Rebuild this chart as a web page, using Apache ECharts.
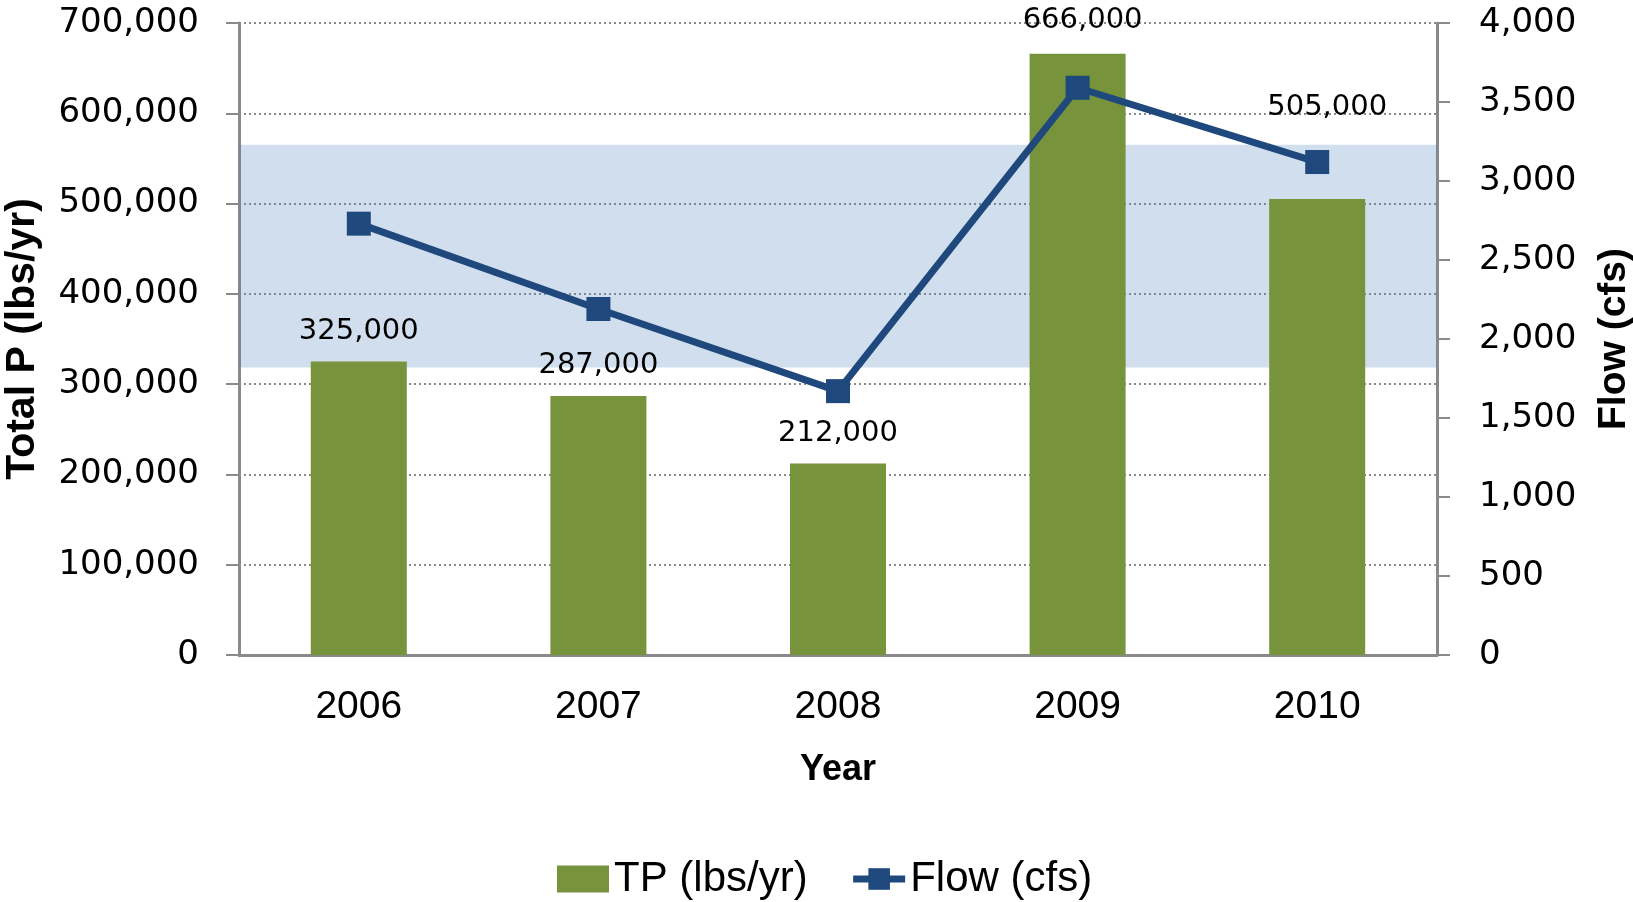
<!DOCTYPE html>
<html>
<head>
<meta charset="utf-8">
<script src="https://cdn.jsdelivr.net/npm/echarts@6/dist/echarts.min.js"></script>
<style>
  html, body { margin: 0; padding: 0; background: #fff; }
  #chart { width: 1633px; height: 902px; }
</style>
</head>
<body>
<div id="chart"></div>
<script>
const years = ['2006', '2007', '2008', '2009', '2010']
const tpLoad = [325000, 287000, 212000, 666000, 505000]
const flowCfs = [2730, 2190, 1670, 3590, 3120]
const flowBand = [1820, 3230]

const axisGray = '#8a8a8a'
const lineBlue = '#1F497D'
const sans = '"Liberation Sans", Arial, sans-serif'
const wide = '"DejaVu Sans", Verdana, sans-serif'
const fmt = v => Number(v).toLocaleString('en-US')

const chart = echarts.init(document.getElementById('chart'))

// labels nudged where the original moved them off the line
const labelShift = { 3: [5, -3], 4: [10, -61] }
const barData = tpLoad.map((v, i) => labelShift[i] ? { value: v, label: { offset: labelShift[i] } } : v)

chart.setOption({
  animation: false,
  grid: { left: 239, right: 196, top: 23, bottom: 247, outerBoundsMode: 'none' },
  legend: {
    data: [
      { name: 'TP (lbs/yr)', icon: 'rect' },
      { name: 'Flow (cfs)', lineStyle: { width: 7, color: lineBlue } }
    ],
    left: 552,
    top: 853,
    itemWidth: 52,
    itemHeight: 27,
    itemGap: 42,
    textStyle: { fontFamily: sans, fontSize: 42, color: '#000' }
  },
  xAxis: {
    type: 'category',
    data: years,
    axisLine: { lineStyle: { color: axisGray, width: 3 } },
    axisTick: { length: 13, lineStyle: { color: axisGray, width: 2 } },
    axisLabel: { fontFamily: sans, fontSize: 39, color: '#000', margin: 33 },
    name: 'Year',
    nameLocation: 'middle',
    nameGap: 97,
    nameTextStyle: { fontFamily: sans, fontWeight: 'bold', fontSize: 36, color: '#000' }
  },
  yAxis: [
    {
      type: 'value',
      position: 'left',
      min: 0,
      max: 700000,
      interval: 100000,
      axisLine: { show: true, lineStyle: { color: axisGray, width: 3 } },
      axisTick: { show: true, length: 13, lineStyle: { color: axisGray, width: 2 } },
      splitLine: { lineStyle: { color: axisGray, width: 2, type: [2, 3] } },
      axisLabel: { fontFamily: wide, fontSize: 34, color: '#000', margin: 40, formatter: fmt },
      name: 'Total P (lbs/yr)',
      nameLocation: 'middle',
      nameRotate: 90,
      nameGap: 196,
      nameTextStyle: { fontFamily: sans, fontWeight: 'bold', fontSize: 41, color: '#000' }
    },
    {
      type: 'value',
      position: 'right',
      min: 0,
      max: 4000,
      interval: 500,
      axisLine: { show: true, lineStyle: { color: axisGray, width: 3 } },
      axisTick: { show: true, length: 13, lineStyle: { color: axisGray, width: 2 } },
      splitLine: { show: false },
      axisLabel: { fontFamily: wide, fontSize: 34, color: '#000', margin: 42, formatter: fmt },
      name: 'Flow (cfs)',
      nameLocation: 'middle',
      nameRotate: 90,
      nameGap: 158,
      nameTextStyle: { fontFamily: sans, fontWeight: 'bold', fontSize: 39, color: '#000' }
    }
  ],
  series: [
    {
      name: 'band',
      type: 'line',
      yAxisIndex: 1,
      data: [],
      z: 1,
      silent: true,
      markArea: {
        silent: true,
        itemStyle: { color: 'rgba(79,129,189,0.26)' },
        data: [[{ yAxis: flowBand[0] }, { yAxis: flowBand[1] }]]
      }
    },
    {
      name: 'TP (lbs/yr)',
      type: 'bar',
      data: barData,
      barWidth: 96,
      z: 2,
      itemStyle: { color: '#77933C' },
      label: {
        show: true,
        position: 'top',
        distance: 16,
        fontFamily: wide,
        fontSize: 29,
        color: '#000',
        formatter: p => fmt(p.value)
      }
    },
    {
      name: 'Flow (cfs)',
      type: 'line',
      yAxisIndex: 1,
      data: flowCfs,
      z: 3,
      symbol: 'rect',
      symbolSize: 24,
      lineStyle: { color: lineBlue, width: 7 },
      itemStyle: { color: lineBlue }
    }
  ]
})
</script>
</body>
</html>
